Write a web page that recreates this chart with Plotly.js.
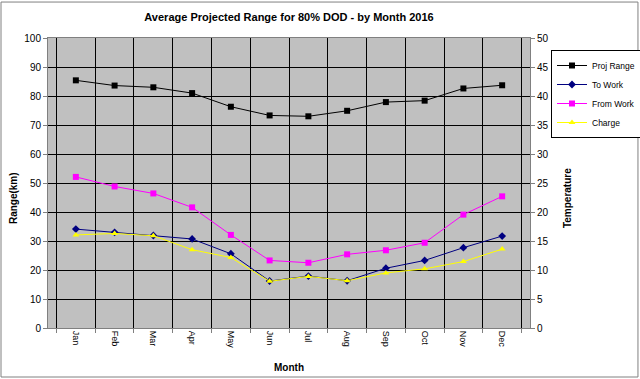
<!DOCTYPE html>
<html>
<head>
<meta charset="utf-8">
<script src="https://cdn.plot.ly/plotly-3.0.1.min.js"></script>
<style>
html,body{margin:0;padding:0;background:#fff;}
#chart{width:640px;height:379px;}
</style>
</head>
<body>
<div id="chart"></div>
<script>
const months = ["Jan","Feb","Mar","Apr","May","Jun","Jul","Aug","Sep","Oct","Nov","Dec"];
const projRange = [85.4, 83.6, 83.0, 81.0, 76.3, 73.3, 73.0, 74.9, 77.9, 78.4, 82.6, 83.7];
const toWork   = [34.1, 33.0, 31.9, 30.7, 25.6, 16.2, 17.9, 16.3, 20.6, 23.3, 27.7, 31.7];
const fromWork = [52.1, 48.8, 46.4, 41.6, 32.1, 23.3, 22.5, 25.4, 26.8, 29.4, 39.1, 45.4];
const charge   = [32.1, 32.6, 31.8, 27.0, 24.3, 16.1, 17.8, 16.3, 19.0, 20.4, 22.9, 27.2];
const leftTicks = [0,10,20,30,40,50,60,70,80,90,100];
const rightTicks = [0,5,10,15,20,25,30,35,40,45,50];

const font = "Liberation Sans, Arial, sans-serif";
function tr(name, y, color, symbol){
  return {x: months, y: y, name: name, type: "scatter", mode: "lines+markers",
    line: {color: color, width: 1},
    marker: {color: color, symbol: symbol, size: 6, line: {width: 0}}};
}
const data = [
  tr("Proj Range", projRange, "#000000", "square"),
  tr("To Work", toWork, "#000080", "diamond"),
  tr("From Work", fromWork, "#FF00FF", "square"),
  tr("Charge", charge, "#FFFF00", "triangle-up"),
  {x: months, y: months.map(() => null), yaxis: "y2", type: "scatter", mode: "lines", showlegend: false, hoverinfo: "skip"}
];
const layout = {
  width: 640, height: 379,
  margin: {l: 48, r: 110, t: 38, b: 51},
  paper_bgcolor: "#ffffff",
  plot_bgcolor: "#C0C0C0",
  font: {family: font, size: 10, color: "#000"},
  title: {text: "<b>Average Projected Range for 80% DOD - by Month 2016</b>", font: {family: font, size: 11, color: "#000"}, xref: "paper", x: 0.5, xanchor: "center", y: 0.955, yanchor: "middle"},
  xaxis: {type: "category", tickangle: 90, tickson: "boundaries", showgrid: true, gridcolor: "#000", gridwidth: 1,
    ticks: "outside", ticklen: 4, tickcolor: "#808080", showline: true, linecolor: "#808080", mirror: true,
    title: {text: "<b>Month</b>", font: {family: font, size: 10}, standoff: 16}, tickfont: {size: 9}, zeroline: false, fixedrange: true},
  yaxis: {range: [0, 100], tickvals: leftTicks, showgrid: true, gridcolor: "#000", gridwidth: 1, zeroline: false,
    ticks: "outside", ticklen: 4, tickcolor: "#808080", showline: true, linecolor: "#808080"},
  yaxis2: {range: [0, 50], tickvals: rightTicks, overlaying: "y", side: "right", showgrid: false, zeroline: false,
    ticks: "outside", ticklen: 4, tickcolor: "#808080", showline: true, linecolor: "#808080"},
  annotations: [
    {text: "<b>Range(km)</b>", xref: "paper", yref: "paper", x: (13-48)/482, y: 0.448, textangle: -90,
      showarrow: false, xanchor: "center", yanchor: "middle", font: {family: font, size: 10}},
    {text: "<b>Temperature</b>", xref: "paper", yref: "paper", x: (567-48)/482, y: 0.448, textangle: -90,
      showarrow: false, xanchor: "center", yanchor: "middle", font: {family: font, size: 10}}
  ],
  legend: {xref: "container", yref: "container", x: 551/640, y: 1 - 50/379, xanchor: "left", yanchor: "top",
    bgcolor: "#fff", bordercolor: "#000", borderwidth: 1,
    font: {family: font, size: 8.5}, itemwidth: 30, tracegroupgap: 0},
  shapes: [{type: "rect", xref: "paper", yref: "paper", x0: -0.0975, x1: 1.224, y0: -0.169, y1: 1.124,
    line: {color: "#808080", width: 1}, fillcolor: "rgba(0,0,0,0)", layer: "below"}],
  showlegend: true
};
Plotly.newPlot("chart", data, layout, {displayModeBar: false, staticPlot: true});
</script>
</body>
</html>
